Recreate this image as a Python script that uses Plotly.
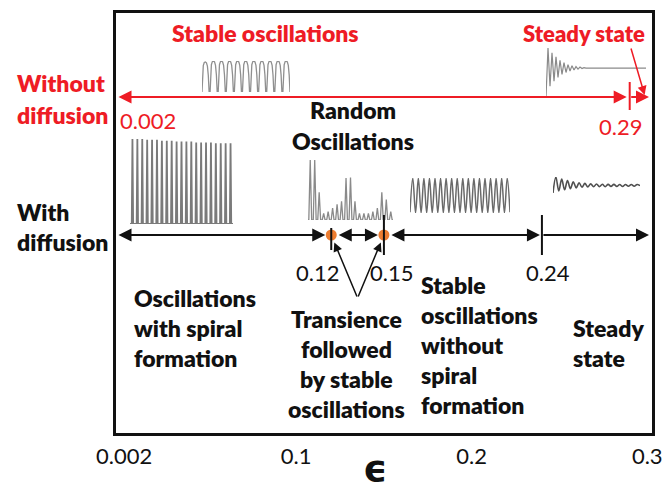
import numpy as np
import plotly.graph_objects as go

# ---------------------------------------------------------------- data
# epsilon axis
EPS_TICKS = [0.002, 0.1, 0.2, 0.3]
EPS_TICK_TEXT = ["0.002", "0.1", "0.2", "0.3"]
EPS_RANGE = [-0.0026, 0.3027]

# regime boundaries
NO_DIFF_BOUNDARY = 0.29
DIFF_BOUNDARIES = [0.12, 0.15, 0.24]
TRANSIENT_POINTS = [0.12, 0.15]

# sketch time series (normalised amplitude)
NO_DIFF_OSC_PEAKS = [0.97, 1.0, 1.0, 1.0, 1.0, 1.0, 1.0, 1.0, 1.0, 1.0, 1.0]
NO_DIFF_STEADY_EXTREMA = [0.0, 1.0, 0.22, 0.9, 0.32, 0.82, 0.4, 0.75, 0.46, 0.7,
                          0.5, 0.66, 0.53, 0.64, 0.55, 0.62, 0.57, 0.61, 0.58, 0.6, 0.59]
NO_DIFF_STEADY_HOLD = 50
SPIRAL_SPIKE_PEAKS = [1.0, 1.0, 1.0, 0.99, 0.99, 0.99, 0.98, 0.98, 0.98, 0.97, 0.97,
                      0.97, 0.97, 0.96, 0.96, 0.96, 0.96, 0.95, 0.95, 0.95, 0.95]
RANDOM_SPIKE_PEAKS = [1.0, 1.0, 0.46, 0.11, 0.14, 0.2, 0.26, 0.31, 0.7, 0.71,
                      0.31, 0.11, 0.11, 0.11, 0.14, 0.2, 0.46, 0.34, 0.14]
NO_SPIRAL_PEAKS = [1.0, 1.0, 1.0, 1.0, 1.0, 1.0, 1.0, 1.0, 1.0,
                   1.0, 1.0, 1.0, 1.0, 1.0, 1.0, 1.0, 1.0, 1.0]
NO_SPIRAL_TROUGHS = [0.02, 0.0, 0.0, 0.0, 0.0, 0.0, 0.0, 0.0, 0.0, 0.0,
                     0.0, 0.0, 0.0, 0.0, 0.0, 0.0, 0.0, 0.0, 0.02]
DIFF_STEADY_EXTREMA = [0.0, 1.0, 0.13, 0.87, 0.2, 0.78, 0.27, 0.7, 0.32, 0.64,
                       0.36, 0.6, 0.38, 0.57, 0.39, 0.56, 0.4, 0.55, 0.4, 0.54,
                       0.41, 0.54, 0.41, 0.53, 0.41, 0.53, 0.42, 0.53, 0.42, 0.53, 0.46]

# ---------------------------------------------------------------- layout
FIG_W, FIG_H = 665, 492
L, R, T, B = 116, 652, 13, 433          # frame edges in canvas pixels
FONT = "Lato"
HEAVY = 800
RED = "#EE1C25"
BLACK = "#111111"
ORANGE = "#ED7D31"

Y_RED = B - 97      # main y axis runs in pixel units from the frame bottom
Y_BLACK = B - 235


def px(x):
    return (x - L) / (R - L)


def py(y):
    return (B - y) / (B - T)


def yd(y):
    return B - y


fig = go.Figure()
annotations = []
shapes = []

# ---------------------------------------------------------------- sketch insets
ARCH_T = [0.0, 0.07, 0.16, 0.28, 0.42, 0.55, 0.67, 0.78, 0.88]
ARCH_V = [0.0, 0.6, 0.88, 0.98, 1.0, 0.97, 0.86, 0.55, 0.0]


def arch_train(peaks):
    t, v = [], []
    for k, h in enumerate(peaks):
        for o, p in zip(ARCH_T, ARCH_V):
            t.append(k + o)
            v.append(h * p)
    return t, v


def spike_train(peaks, half_width):
    t, v = [-0.5], [0.0]
    for k, h in enumerate(peaks):
        t += [k - half_width, k, k + half_width]
        v += [0.0, h, 0.0]
    t.append(len(peaks) - 0.5)
    v.append(0.0)
    return t, v


def alternating(troughs, peaks):
    t, v = [], []
    for k, lo in enumerate(troughs):
        t.append(k)
        v.append(lo)
        if k < len(peaks):
            t.append(k + 0.5)
            v.append(peaks[k])
    return t, v


insets = []
t, v = arch_train(NO_DIFF_OSC_PEAKS)
insets.append((t, v, (202, 290, 61, 92), "#8f8f8f", 1.3, "linear"))

t = list(range(len(NO_DIFF_STEADY_EXTREMA))) + [NO_DIFF_STEADY_HOLD]
v = NO_DIFF_STEADY_EXTREMA + [NO_DIFF_STEADY_EXTREMA[-1]]
insets.append((t, v, (546, 646, 48, 97), "#8a8a8a", 1.2, "linear"))

t, v = spike_train(SPIRAL_SPIKE_PEAKS, 0.14)
insets.append((t, v, (130, 233, 139, 224), "#7a7a7a", 1.8, "linear"))

t, v = spike_train(RANDOM_SPIKE_PEAKS, 0.32)
insets.append((t, v, (308, 393, 160, 220), "#8a8a8a", 1.3, "linear"))

t, v = alternating(NO_SPIRAL_TROUGHS, NO_SPIRAL_PEAKS)
insets.append((t, v, (410, 510, 178, 213), "#6a6a6a", 1.5, "spline"))

t = list(range(len(DIFF_STEADY_EXTREMA)))
insets.append((t, DIFF_STEADY_EXTREMA, (553, 640, 177, 193), "#505050", 1.6, "spline"))

for i, (t, v, box, color, width, shape) in enumerate(insets, start=2):
    x0, x1, ytop, ybot = box
    fig.add_trace(go.Scatter(
        x=t, y=v, mode="lines", xaxis=f"x{i}", yaxis=f"y{i}",
        line=dict(color=color, width=width, shape=shape),
        hoverinfo="skip", showlegend=False, cliponaxis=False))
    fig.update_layout(**{
        f"xaxis{i}": dict(domain=[px(x0), px(x1)], anchor=f"y{i}", visible=False,
                          range=[min(t), max(t)], fixedrange=True),
        f"yaxis{i}": dict(domain=[py(ybot), py(ytop)], anchor=f"x{i}", visible=False,
                          range=[0, 1], fixedrange=True),
    })

# ---------------------------------------------------------------- regime lines


def arrow(x0, x1, y, color, both=True, start_off=2, end_off=2, width=2.0):
    annotations.append(dict(
        x=x1, y=y, ax=x0, ay=y, xref="x", yref="y", axref="x", ayref="y",
        text="", showarrow=True, arrowhead=2, startarrowhead=2,
        arrowside="end+start" if both else "end",
        arrowsize=1.3, startarrowsize=1.3, arrowwidth=width, arrowcolor=color,
        standoff=end_off, startstandoff=start_off))


# without diffusion
arrow(EPS_RANGE[0], NO_DIFF_BOUNDARY, Y_RED, RED, True, 1, 3)
arrow(NO_DIFF_BOUNDARY, EPS_RANGE[1], Y_RED, RED, False, 0, 3)
shapes.append(dict(type="line", xref="x", yref="y", x0=NO_DIFF_BOUNDARY, x1=NO_DIFF_BOUNDARY,
                   y0=yd(110), y1=yd(82), line=dict(color=RED, width=2)))

# with diffusion
bounds = [EPS_RANGE[0]] + DIFF_BOUNDARIES + [EPS_RANGE[1]]
arrow(bounds[0], bounds[1], Y_BLACK, BLACK, True, 1, 6)
arrow(bounds[1], bounds[2], Y_BLACK, BLACK, True, 6, 6)
arrow(bounds[2], bounds[3], Y_BLACK, BLACK, True, 6, 2)
arrow(bounds[3], bounds[4], Y_BLACK, BLACK, False, 0, 3)
tick_spans = {0.12: (250, 228), 0.15: (255, 215), 0.24: (255, 215)}
for b in DIFF_BOUNDARIES:
    lo, hi = tick_spans[b]
    shapes.append(dict(type="line", xref="x", yref="y", x0=b, x1=b,
                       y0=yd(lo), y1=yd(hi), line=dict(color=BLACK, width=2)))

fig.add_trace(go.Scatter(
    x=TRANSIENT_POINTS, y=[Y_BLACK] * len(TRANSIENT_POINTS), mode="markers",
    marker=dict(size=11, color=ORANGE), hoverinfo="skip", showlegend=False,
    cliponaxis=False))

# pointers from the transient label to the two boundaries
v_tail = sum(TRANSIENT_POINTS) / len(TRANSIENT_POINTS)
for b in TRANSIENT_POINTS:
    annotations.append(dict(
        x=b, y=Y_BLACK, ax=v_tail, ay=yd(298), xref="x", yref="y", axref="x", ayref="y",
        text="", showarrow=True, arrowhead=2, arrowsize=1.2, arrowwidth=1.5,
        arrowcolor=BLACK, standoff=8))

# pointer from "Steady state" to the last segment
annotations.append(dict(
    x=0.2985, y=yd(95), ax=0.2905, ay=yd(47), xref="x", yref="y", axref="x", ayref="y",
    text="", showarrow=True, arrowhead=2, arrowsize=1.2, arrowwidth=1.5,
    arrowcolor=RED, standoff=0))

# ---------------------------------------------------------------- text


def label(text, x, y, size, color, bold=True, anchor="center"):
    annotations.append(dict(
        text=text, x=px(x), y=py(y),
        xref="paper", yref="paper", xanchor=anchor, yanchor="middle",
        showarrow=False,
        font=dict(family=FONT, size=size, color=color, weight=HEAVY if bold else 400)))


def block(lines, x, y0, step, anchor, size=23, color=BLACK):
    for i, s in enumerate(lines):
        label(s, x, y0 + i * step, size, color, True, anchor)


label("Stable oscillations", 265, 33, 23, RED)
label("Steady state", 584, 33, 22, RED)
block(["Without", "diffusion"], 15, 83, 32, "left", 23, RED)
label("0.002", 118, 120, 22, RED, bold=False, anchor="left")
annotations.append(dict(text="0.29", x=NO_DIFF_BOUNDARY, y=py(126), xref="x", yref="paper",
                        xshift=-9, showarrow=False, yanchor="middle",
                        font=dict(family=FONT, size=22, color=RED)))

block(["With", "diffusion"], 15, 212, 30, "left")
block(["Random", "Oscillations"], 353, 110, 31, "center")
block(["Oscillations", "with spiral", "formation"], 132, 298, 30, "left")
block(["Transience", "followed", "by stable", "oscillations"], 346, 319, 30, "center")
block(["Stable", "oscillations", "without", "spiral", "formation"], 419, 285, 30, "left")
block(["Steady", "state"], 571, 328, 30, "left")

for b, shift in zip(DIFF_BOUNDARIES, [-14, 8, 6]):
    annotations.append(dict(text=f"{b:.2f}", x=b, y=py(272), xref="x", yref="paper",
                            xshift=shift, showarrow=False, yanchor="middle",
                            font=dict(family=FONT, size=22, color=BLACK)))

# axis symbol
annotations.append(dict(text="<b>ϵ</b>", x=px(375), y=py(492), xref="paper", yref="paper",
                        showarrow=False, yanchor="bottom",
                        font=dict(family="DejaVu Sans", size=38, color=BLACK)))

# ---------------------------------------------------------------- axes
fig.update_layout(
    width=FIG_W, height=FIG_H,
    margin=dict(l=L, r=FIG_W - R, t=T, b=FIG_H - B, pad=0, autoexpand=False),
    paper_bgcolor="white", plot_bgcolor="white",
    showlegend=False,
    xaxis=dict(range=EPS_RANGE, showgrid=False, zeroline=False, showline=True, mirror=True,
               linecolor=BLACK, linewidth=2.5, ticks="", tickvals=EPS_TICKS,
               ticktext=EPS_TICK_TEXT, ticklabelstandoff=2, automargin=False,
               tickfont=dict(family=FONT, size=22, color=BLACK), fixedrange=True),
    yaxis=dict(range=[0, B - T], showgrid=False, zeroline=False, showline=True, mirror=True,
               linecolor=BLACK, linewidth=2.5, ticks="", showticklabels=False,
               automargin=False, fixedrange=True),
    annotations=annotations,
    shapes=shapes,
)

fig.write_html("out.html")
